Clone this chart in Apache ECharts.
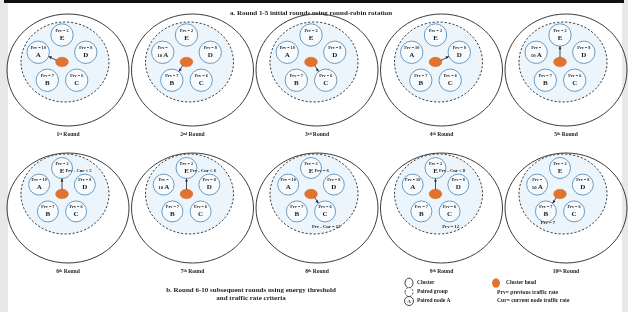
<!DOCTYPE html>
<html><head><meta charset="utf-8">
<script src="https://cdn.jsdelivr.net/npm/echarts@6/dist/echarts.min.js"></script>
<style>html,body{margin:0;padding:0;background:#fff}#c{width:628px;height:312px}</style>
</head><body><div id="c"></div>
<script>
// ---- data ----
const roundOrdinals = ['1', '2', '3', '4', '5', '6', '7', '8', '9', '10'];
const roundSuffixes = ['st', 'nd', 'rd', 'th', 'th', 'th', 'th', 'th', 'th', 'th'];
const nodeNames = ['A', 'B', 'C', 'D', 'E'];
const prvValues = [10, 7, 6, 8, 2];
const headNodes = ['A', 'B', 'C', 'D', 'E', 'E', 'E', 'C', 'E', 'B'];
const wrapALabel = [false, true, false, false, true, false, true, false, false, true];
const roundNotes = [
  [], [], [], [], [],
  [['E', 'Prv - Cur < 5']],
  [['E', 'Prv - Cur ≤ 6']],
  [['E', 'Prv = 6'], ['C', 'Prv - Cur = 12']],
  [['E', 'Prv - Cur < 8'], ['C', 'Prv = 12']],
  [['B', 'Prv = 7']]
];
const titleA = 'a. Round 1-5 initial rounds using round-robin rotation';
const titleB = ['b. Round 6-10 subsequent rounds using energy threshold', 'and traffic rate criteria'];
const legendLeft = ['Cluster', 'Paired group', 'Paired node A'];
const legendRight = ['Cluster head'];
const legendNotes = ['Prv= previous traffic rate', 'Cur= current node traffic rate'];

// ---- style ----
const SERIF = '"Liberation Serif", "DejaVu Serif", serif';
const INK = '#1e1e1e';
const NODE_STROKE = '#6a9bc3';
const CH_FILL = '#e2732f';

function txt(x, y, text, size, weight, align, extra) {
  return Object.assign({
    type: 'text', x: x, y: y,
    style: { text: text, fontSize: size, fontFamily: SERIF, fontWeight: weight || 'normal',
      fill: INK, align: align || 'center', verticalAlign: 'middle' }
  }, extra || {});
}

function renderRound(params, api) {
  const i = api.value(0);
  const col = i % 5, row = Math.floor(i / 5);
  const big = api.coord([68 + col * 124.5, row ? 208 : 70]);
  const u = api.size([1, 1]);
  const sx = u[0], sy = u[1];
  const pent = [big[0] - 6 * sx, big[1] - (row ? 16 : 10) * sy];
  const R = row ? 24 : 25;
  const nr = row ? 10.5 : 11.2;
  const angles = [198, 126, 54, -18, -90];
  const ch = [pent[0], pent[1] + 2 * sy];
  const kids = [];
  kids.push({ type: 'ellipse', shape: { cx: big[0], cy: big[1], rx: 61 * sx, ry: (row ? 55 : 56) * sy },
    style: { fill: 'none', stroke: '#3c3c3c', lineWidth: 1 } });
  kids.push({ type: 'ellipse', shape: { cx: pent[0] + 3 * sx, cy: pent[1] + 2 * sy, rx: 44 * sx, ry: 40 * sy },
    style: { fill: '#ecf5fb', stroke: '#2c2c2c', lineWidth: 0.9, lineDash: [2.2, 1.8] } });
  const pos = {};
  nodeNames.forEach(function (n, k) {
    const a = angles[k] * Math.PI / 180;
    const p = [pent[0] + R * Math.cos(a) * sx, pent[1] + R * Math.sin(a) * sy];
    pos[n] = p;
    kids.push({ type: 'circle', shape: { cx: p[0], cy: p[1], r: nr },
      style: { fill: '#f8fbfe', stroke: NODE_STROKE, lineWidth: 1 } });
    if (n === 'A' && wrapALabel[i]) {
      kids.push(txt(p[0], p[1] - 4.5, 'Prv =', 4.2, 'bold'));
      kids.push(txt(p[0] - 3, p[1] + 3, prvValues[k] + '', 4.8, 'bold'));
      kids.push(txt(p[0] + 3, p[1] + 2.5, n, 7, 'bold'));
    } else {
      kids.push(txt(p[0], p[1] - 4.5, 'Prv = ' + prvValues[k], 4.2, 'bold'));
      kids.push(txt(p[0], p[1] + 3, n, 7, 'bold'));
    }
  });
  // cluster head
  kids.push({ type: 'ellipse', shape: { cx: ch[0], cy: ch[1], rx: 6.3, ry: 4.7 },
    style: { fill: CH_FILL, stroke: '#d0662a', lineWidth: 0.5 } });
  // link CH -> head node
  const h = pos[headNodes[i]];
  const dx = h[0] - ch[0], dy = h[1] - ch[1];
  const L = Math.hypot(dx, dy), ux = dx / L, uy = dy / L;
  const s = [ch[0] + ux * 6, ch[1] + uy * 4.5];
  const e = [h[0] - ux * nr, h[1] - uy * nr];
  kids.push({ type: 'line', shape: { x1: s[0], y1: s[1], x2: e[0], y2: e[1] },
    style: { stroke: '#222', lineWidth: 0.8 } });
  kids.push({ type: 'polygon', shape: { points: [
    e, [e[0] - ux * 3 - uy * 1.4, e[1] - uy * 3 + ux * 1.4], [e[0] - ux * 3 + uy * 1.4, e[1] - uy * 3 - ux * 1.4]] },
    style: { fill: '#222' } });
  // notes
  roundNotes[i].forEach(function (nt) {
    const p = pos[nt[0]];
    if (nt[0] === 'E') kids.push(txt(p[0] + 3.5, p[1] + 3, nt[1], 4.6, 'bold', 'left'));
    else if (nt[0] === 'C') kids.push(txt(p[0] + 1, p[1] + 15, nt[1], 4.6, 'bold'));
    else kids.push(txt(p[0] + 2, p[1] + 11, nt[1], 4.6, 'bold'));
  });
  // round label
  kids.push({ type: 'text', x: big[0], y: big[1] + (row ? 64 : 65),
    style: { text: '{n|' + roundOrdinals[i] + '}{s|' + roundSuffixes[i] + '}{n| Round}',
      align: 'center', verticalAlign: 'middle',
      rich: { n: { fontSize: 5.6, fontWeight: 'bold', fontFamily: SERIF, fill: INK, verticalAlign: 'bottom' },
              s: { fontSize: 3.7, fontWeight: 'bold', fontFamily: SERIF, fill: INK, verticalAlign: 'top' } } } });
  return { type: 'group', children: kids };
}

// legend + titles (layout decoration)
const graphics = [
  { type: 'rect', shape: { x: 0, y: 0, width: 8, height: 312 }, style: { fill: '#e8e8e8' }, z: 0 },
  { type: 'rect', shape: { x: 622, y: 0, width: 6, height: 312 }, style: { fill: '#e8e8e8' }, z: 0 },
  { type: 'rect', shape: { x: 4, y: 0, width: 620, height: 3 }, style: { fill: '#111' }, z: 0 },
  { type: 'text', x: 311, y: 13, style: { text: titleA, fontSize: 7, fontWeight: 'bold', fontFamily: SERIF, fill: INK, align: 'center', verticalAlign: 'middle' } },
  { type: 'text', x: 251, y: 290, style: { text: titleB[0], fontSize: 7, fontWeight: 'bold', fontFamily: SERIF, fill: INK, align: 'center', verticalAlign: 'middle' } },
  { type: 'text', x: 251, y: 298, style: { text: titleB[1], fontSize: 7, fontWeight: 'bold', fontFamily: SERIF, fill: INK, align: 'center', verticalAlign: 'middle' } },
  // legend symbols
  { type: 'ellipse', shape: { cx: 409, cy: 283, rx: 4, ry: 4.8 }, style: { fill: '#fff', stroke: '#333', lineWidth: 0.9 } },
  { type: 'ellipse', shape: { cx: 409, cy: 292, rx: 4, ry: 4.5 }, style: { fill: '#fff', stroke: '#333', lineWidth: 0.9, lineDash: [1.8, 1.6] } },
  { type: 'circle', shape: { cx: 409, cy: 301, r: 4.5 }, style: { fill: '#fff', stroke: '#333', lineWidth: 0.9 } },
  { type: 'text', x: 409, y: 301.3, style: { text: 'A', fontSize: 5, fontWeight: 'bold', fontFamily: SERIF, fill: INK, align: 'center', verticalAlign: 'middle' } },
  { type: 'ellipse', shape: { cx: 496, cy: 283, rx: 4, ry: 4.8 }, style: { fill: CH_FILL } }
];
legendLeft.forEach(function (t, k) {
  graphics.push({ type: 'text', x: 417, y: 283 + k * 9, style: { text: t, fontSize: 5.5, fontWeight: 'bold', fontFamily: SERIF, fill: INK, align: 'left', verticalAlign: 'middle' } });
});
legendRight.forEach(function (t) {
  graphics.push({ type: 'text', x: 506, y: 283, style: { text: t, fontSize: 5.5, fontWeight: 'bold', fontFamily: SERIF, fill: INK, align: 'left', verticalAlign: 'middle' } });
});
legendNotes.forEach(function (t, k) {
  graphics.push({ type: 'text', x: 497, y: 293 + k * 7.5, style: { text: t, fontSize: 5.6, fontWeight: 'bold', fontFamily: SERIF, fill: INK, align: 'left', verticalAlign: 'middle' } });
});

const chart = echarts.init(document.getElementById('c'), null, { renderer: 'canvas' });
chart.setOption({
  animation: false,
  backgroundColor: '#ffffff',
  grid: { left: 0, right: 0, top: 0, bottom: 0 },
  xAxis: { type: 'value', min: 0, max: 628, show: false },
  yAxis: { type: 'value', min: 0, max: 312, inverse: true, show: false },
  graphic: graphics,
  series: [{
    type: 'custom',
    coordinateSystem: 'cartesian2d',
    renderItem: renderRound,
    data: roundOrdinals.map(function (r, i) { return [i]; }),
    encode: { x: 0 },
    silent: true
  }]
});
</script></body></html>
